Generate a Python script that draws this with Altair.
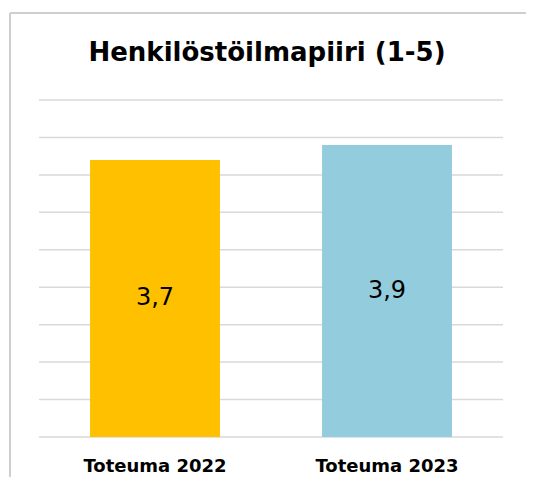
import altair as alt
import pandas as pd

categories = ["Toteuma 2022", "Toteuma 2023"]
values = [3.7, 3.9]
colors = ["#FFC000", "#93CDDD"]
title_text = "Henkilöstöilmapiiri (1-5)"
grid_values = [0, 0.5, 1, 1.5, 2, 2.5, 3, 3.5, 4, 4.5]

df = pd.DataFrame({"cat": categories, "val": values})
grid_df = pd.DataFrame({"g": grid_values})

W, H = 464, 337
PL, PT, PR, PB = 31, 92, 23, 40

yscale = alt.Scale(domain=[0, 4.5], nice=False)

grid = alt.Chart(grid_df).mark_rule(color="#d9d9d9", strokeWidth=1.5).encode(
    y=alt.Y("g:Q", scale=yscale, axis=None),
    x=alt.value(0), x2=alt.value(W),
)

base = alt.Chart(df).encode(
    x=alt.X("cat:N", sort=categories,
            scale=alt.Scale(paddingInner=0.44, paddingOuter=0.22),
            axis=alt.Axis(title=None, labelAngle=0, ticks=False, domain=False,
                          labelFont="DejaVu Sans", labelFontWeight="bold",
                          labelFontSize=18, labelColor="#000000", labelPadding=20))
)

bars = base.mark_bar().encode(
    y=alt.Y("val:Q", scale=yscale, axis=None),
    color=alt.Color("cat:N", scale=alt.Scale(domain=categories, range=colors), legend=None),
)

texts = base.transform_calculate(
    mid="datum.val / 2",
    lbl="replace(format(datum.val, '.1f'), '.', ',')",
).mark_text(font="DejaVu Sans", fontSize=24, color="#000000", baseline="middle").encode(
    y=alt.Y("mid:Q", scale=yscale, axis=None),
    text="lbl:N",
)

one = pd.DataFrame({"t": [title_text]})
title_mark = alt.Chart(one).mark_text(
    font="DejaVu Sans", fontSize=26, fontWeight="bold", color="#000000",
    baseline="alphabetic", align="center"
).encode(x=alt.value(W / 2 - 4), y=alt.value(61 - 8 - PT), text="t:N")

left_border = alt.Chart(one).mark_rule(color="#cfcfcf", strokeWidth=2).encode(
    x=alt.value(10 - 8 - PL), y=alt.value(13 - 8 - PT), y2=alt.value(H + PB + 5)
)
top_border = alt.Chart(one).mark_rule(color="#cfcfcf", strokeWidth=2).encode(
    x=alt.value(10 - 8 - PL), x2=alt.value(W + PR + 5), y=alt.value(13 - 8 - PT)
)

chart = alt.layer(grid, bars, texts, title_mark, left_border, top_border).properties(
    width=W, height=H,
    autosize=alt.AutoSizeParams(type="none"),
    padding={"left": PL, "top": PT, "right": PR, "bottom": PB},
).configure_view(stroke=None)

chart.save("out.html", embed_options={"renderer": "svg", "actions": False})
